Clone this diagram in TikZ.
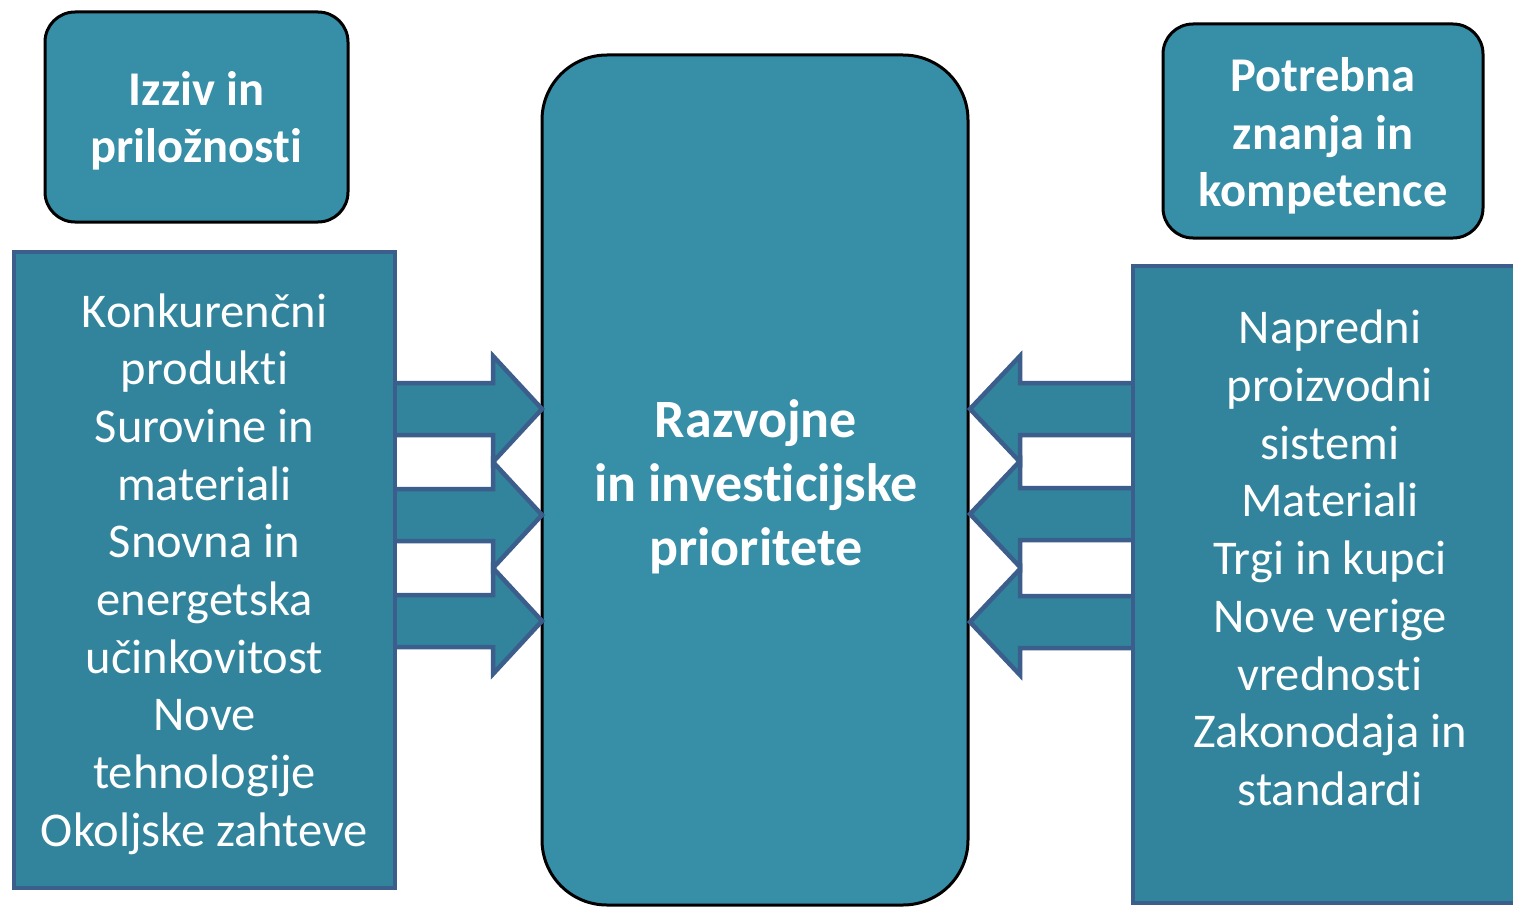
\documentclass[tikz,border=0pt]{standalone}
\usepackage{fontspec}
\setmainfont{Carlito}[Ligatures=NoCommon]
\definecolor{listfill}{HTML}{31849B}
\definecolor{listline}{HTML}{3B5E8C}
\definecolor{capfill}{HTML}{378EA7}
\tikzset{
  listbox/.style={draw=listline, fill=listfill, line width=4pt},
  capbox/.style={draw=black, fill=capfill, line width=3pt},
  bigarrow/.style={draw=listline, fill=listfill, line width=4.5pt, line join=miter},
  listtext/.style={text=white, align=center, font=\fontsize{48.5}{57.7}\selectfont},
  captext/.style={text=white, align=center, font=\bfseries\fontsize{48.5}{57.5}\selectfont},
}
\begin{document}
\begin{tikzpicture}[x=1pt,y=-1pt]
  \useasboundingbox (0,0) rectangle (1513,907);
  \clip (0,0) rectangle (1513,907);
  % headings
  \node[capbox, rounded corners=30pt, minimum width=303pt, minimum height=210pt] (izziv) at (196.5,117) {};
  \node[captext] (izzivtext) at (196.5,121) {Izziv in\\prilo\v{z}nosti};
  \node[capbox, rounded corners=30pt, minimum width=320pt, minimum height=214pt] (znanja) at (1323,131) {};
  \node[captext] (znanjatext) at (1323,136) {Potrebna\\znanja in\\kompetence};
  % middle
  \node[capbox, rounded corners=65pt, minimum width=426pt, minimum height=850pt] (prioritete) at (755,480) {};
  \node[captext, font=\bfseries\fontsize{54}{64}\selectfont] (prioritetetext) at (756,487) {Razvojne\\in investicijske\\prioritete};
  % arrows
  \foreach \c in {409,515,621}
    \draw[bigarrow] (388,\c-26) -- (493,\c-26) -- (493,\c-53) -- (542,\c) -- (493,\c+53) -- (493,\c+26) -- (388,\c+26) -- cycle;
  \foreach \c in {409,514,622}
    \draw[bigarrow] (1140,\c-26) -- (1020,\c-26) -- (1020,\c-53) -- (970,\c) -- (1020,\c+53) -- (1020,\c+26) -- (1140,\c+26) -- cycle;
  % lists
  \node[listbox, minimum width=381pt, minimum height=636pt] (izzivlist) at (204.5,570) {};
  \node[listtext] (izzivlisttext) at (204.5,574) {Konkuren\v{c}ni\\produkti\\Surovine in\\materiali\\Snovna in\\energetska\\u\v{c}inkovitost\\Nove\\tehnologije\\Okoljske zahteve};
  \node[listbox, minimum width=394pt, minimum height=637pt] (znanjalist) at (1330,584.5) {};
  \node[listtext] (znanjalisttext) at (1330,558) {Napredni\\proizvodni\\sistemi\\Materiali\\Trgi in kupci\\Nove verige\\vrednosti\\Zakonodaja in\\standardi};
\end{tikzpicture}
\end{document}
